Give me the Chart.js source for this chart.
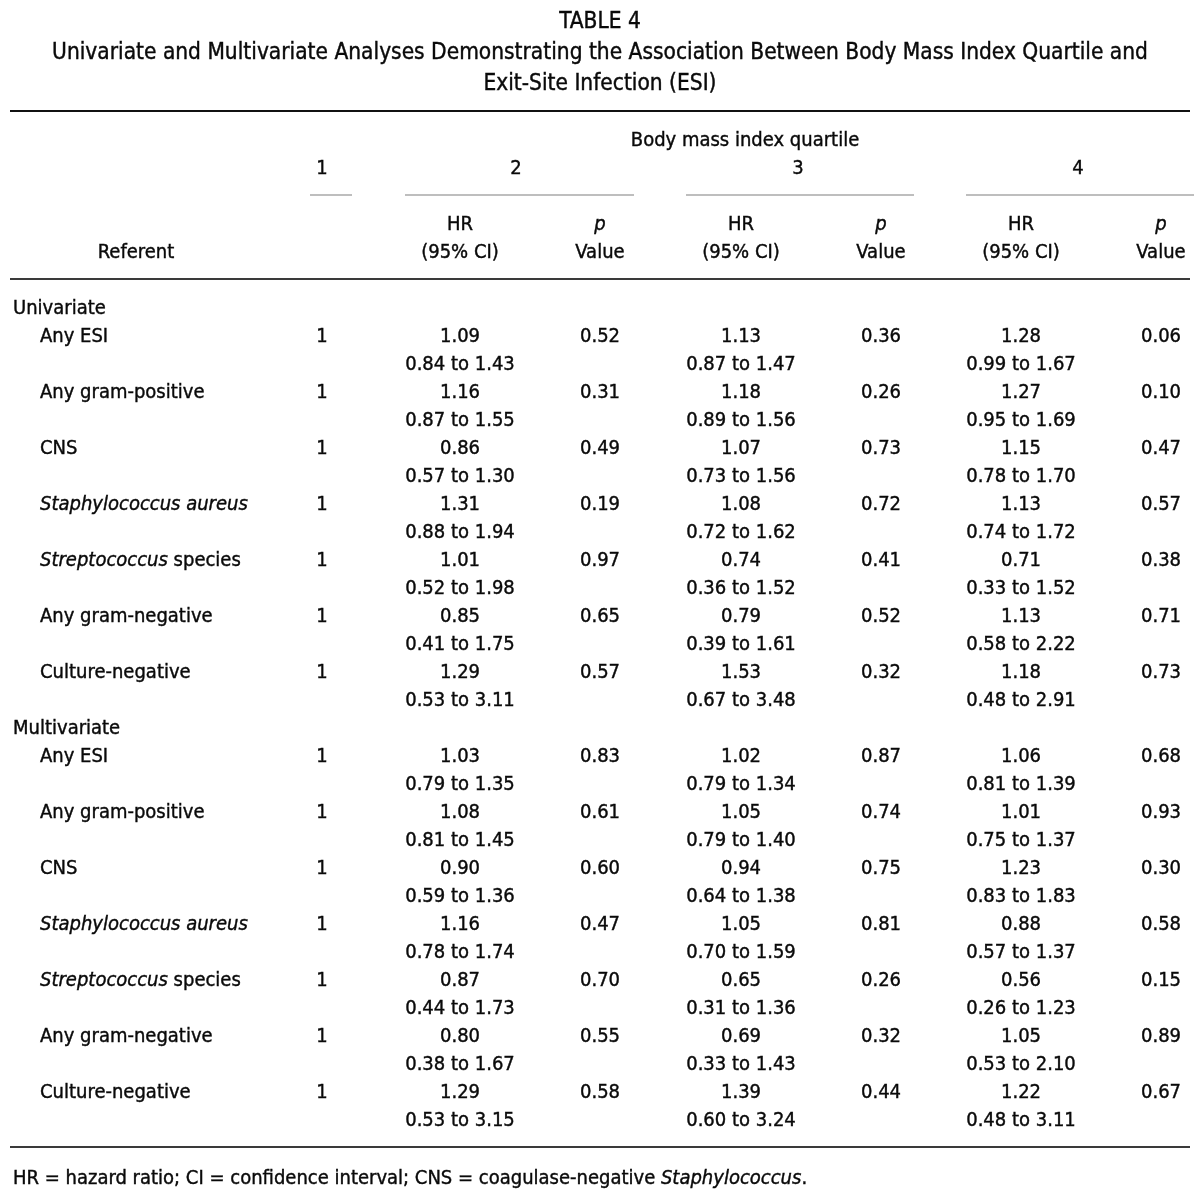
<!DOCTYPE html>
<html>
<head>
<meta charset="utf-8">
<script src="https://cdn.jsdelivr.net/npm/chart.js@4.4.1/dist/chart.umd.min.js"></script>
<style>
  html, body { margin: 0; padding: 0; background: #fff; }
  #wrap { width: 1200px; height: 1198px; position: relative; }
</style>
</head>
<body>
<div id="wrap"><canvas id="table4"></canvas></div>
<script>
// ---- table content ----
const titleLines = [
  'TABLE 4',
  'Univariate and Multivariate Analyses Demonstrating the Association Between Body Mass Index Quartile and',
  'Exit-Site Infection (ESI)',
];
const quartiles = ['1', '2', '3', '4'];
const outcomes = [
  [['Any ESI', false]],
  [['Any gram-positive', false]],
  [['CNS', false]],
  [['Staphylococcus aureus', true]],
  [['Streptococcus', true], [' species', false]],
  [['Any gram-negative', false]],
  [['Culture-negative', false]],
];
const referent = [1, 1, 1, 1, 1, 1, 1];

// univariate
const uniHR2 = [1.09, 1.16, 0.86, 1.31, 1.01, 0.85, 1.29];
const uniLo2 = [0.84, 0.87, 0.57, 0.88, 0.52, 0.41, 0.53];
const uniHi2 = [1.43, 1.55, 1.30, 1.94, 1.98, 1.75, 3.11];
const uniP2  = [0.52, 0.31, 0.49, 0.19, 0.97, 0.65, 0.57];
const uniHR3 = [1.13, 1.18, 1.07, 1.08, 0.74, 0.79, 1.53];
const uniLo3 = [0.87, 0.89, 0.73, 0.72, 0.36, 0.39, 0.67];
const uniHi3 = [1.47, 1.56, 1.56, 1.62, 1.52, 1.61, 3.48];
const uniP3  = [0.36, 0.26, 0.73, 0.72, 0.41, 0.52, 0.32];
const uniHR4 = [1.28, 1.27, 1.15, 1.13, 0.71, 1.13, 1.18];
const uniLo4 = [0.99, 0.95, 0.78, 0.74, 0.33, 0.58, 0.48];
const uniHi4 = [1.67, 1.69, 1.70, 1.72, 1.52, 2.22, 2.91];
const uniP4  = [0.06, 0.10, 0.47, 0.57, 0.38, 0.71, 0.73];

// multivariate
const mvHR2 = [1.03, 1.08, 0.90, 1.16, 0.87, 0.80, 1.29];
const mvLo2 = [0.79, 0.81, 0.59, 0.78, 0.44, 0.38, 0.53];
const mvHi2 = [1.35, 1.45, 1.36, 1.74, 1.73, 1.67, 3.15];
const mvP2  = [0.83, 0.61, 0.60, 0.47, 0.70, 0.55, 0.58];
const mvHR3 = [1.02, 1.05, 0.94, 1.05, 0.65, 0.69, 1.39];
const mvLo3 = [0.79, 0.79, 0.64, 0.70, 0.31, 0.33, 0.60];
const mvHi3 = [1.34, 1.40, 1.38, 1.59, 1.36, 1.43, 3.24];
const mvP3  = [0.87, 0.74, 0.75, 0.81, 0.26, 0.32, 0.44];
const mvHR4 = [1.06, 1.01, 1.23, 0.88, 0.56, 1.05, 1.22];
const mvLo4 = [0.81, 0.75, 0.83, 0.57, 0.26, 0.53, 0.48];
const mvHi4 = [1.39, 1.37, 1.83, 1.37, 1.23, 2.10, 3.11];
const mvP4  = [0.68, 0.93, 0.30, 0.58, 0.15, 0.89, 0.67];

const footnote = [
  ['HR = hazard ratio; CI = confidence interval; CNS = coagulase-negative ', false],
  ['Staphylococcus', true],
  ['.', false],
];

// ---- layout (x in canvas px units, y in text lines of 28px) ----
const colX = { label: 40, section: 13, ref: 322, hr2: 460, p2: 600, hr3: 741, p3: 881, hr4: 1021, p4: 1161 };
const LINE0 = 139, LINE_H = 28;
const TEXT_DY = 2;
const FONT = '"DejaVu Sans Condensed", "Liberation Sans Narrow", "DejaVu Sans", sans-serif';
const BODY_PX = 20;
const TITLE_PX = 22.5;

const cells = [];
const rules = [];
function cell(col, line, segs, align) { cells.push({ col, line, segs, align: align || 'center' }); }
const fmt = (v) => v.toFixed(2);

// header
cell(null, 0, [['Body mass index quartile', false]], 'center');
cell('ref', 1, [[quartiles[0], false]]);
cell('hr2', 1, [[quartiles[1], false]]); // centred over the hr/p pair below
cell('hr3', 1, [[quartiles[2], false]]);
cell('hr4', 1, [[quartiles[3], false]]);
['2', '3', '4'].forEach((q) => {
  cell('hr' + q, 3, [['HR', false]]);
  cell('hr' + q, 4, [['(95% CI)', false]]);
  cell('p' + q, 3, [['p', true]]);
  cell('p' + q, 4, [['Value', false]]);
});
cell('referent', 4, [['Referent', false]]);

rules.push({ from: 10, to: 1190, line: -1, color: '#111', width: 1.8 });
rules.push({ from: 310, to: 352, line: 2, color: '#a8a8a8', width: 1.6 });
rules.push({ from: 405, to: 634, line: 2, color: '#a8a8a8', width: 1.6 });
rules.push({ from: 686, to: 914, line: 2, color: '#a8a8a8', width: 1.6 });
rules.push({ from: 966, to: 1194, line: 2, color: '#a8a8a8', width: 1.6 });
rules.push({ from: 10, to: 1190, line: 5, color: '#3a3a3a', width: 1.8 });
rules.push({ from: 10, to: 1190, line: 36, color: '#3a3a3a', width: 1.8 });

function addBlock(title, startLine, hr, lo, hi, p) {
  cell('section', startLine, [[title, false]], 'left');
  outcomes.forEach((segs, i) => {
    const l = startLine + 1 + i * 2;
    cell('label', l, segs, 'left');
    cell('ref', l, [[String(referent[i]), false]]);
    for (let q = 0; q < 3; q++) {
      const k = q + 2;
      cell('hr' + k, l, [[fmt(hr[q][i]), false]]);
      cell('hr' + k, l + 1, [[fmt(lo[q][i]) + ' to ' + fmt(hi[q][i]), false]]);
      cell('p' + k, l, [[fmt(p[q][i]), false]]);
    }
  });
}
addBlock('Univariate', 6,
  [uniHR2, uniHR3, uniHR4], [uniLo2, uniLo3, uniLo4], [uniHi2, uniHi3, uniHi4], [uniP2, uniP3, uniP4]);
addBlock('Multivariate', 21,
  [mvHR2, mvHR3, mvHR4], [mvLo2, mvLo3, mvLo4], [mvHi2, mvHi3, mvHi4], [mvP2, mvP3, mvP4]);
cell('section', 37.08, footnote, 'left');

// column header centres that are not plain columns
const specialX = { referent: 136, q2: 516, q3: 798, q4: 1078, bmi: 745 };

function drawSegs(ctx, segs, x, y, align, px) {
  const widths = segs.map(([t, it]) => {
    ctx.font = (it ? 'italic ' : '') + px + 'px ' + FONT;
    return ctx.measureText(t).width;
  });
  const total = widths.reduce((a, b) => a + b, 0);
  let cx = align === 'left' ? x : align === 'right' ? x - total : x - total / 2;
  segs.forEach(([t, it], i) => {
    ctx.font = (it ? 'italic ' : '') + px + 'px ' + FONT;
    ctx.textAlign = 'left';
    ctx.fillText(t, cx, y + TEXT_DY);
    ctx.strokeText(t, cx, y + TEXT_DY);
    cx += widths[i];
  });
}

const tablePlugin = {
  id: 'tableText',
  afterDraw(chart) {
    const { ctx, scales } = chart;
    const xs = scales.x, ys = scales.y;
    ctx.save();
    ctx.fillStyle = '#0a0a0a';
    ctx.textBaseline = 'middle';

    // title block
    const titleLinesY = [-4.25, -3.14, -2.04];
    ctx.strokeStyle = '#0a0a0a';
    ctx.lineWidth = 0.4;
    titleLines.forEach((t, i) => {
      drawSegs(ctx, [[t, false]], xs.getPixelForValue(600), ys.getPixelForValue(titleLinesY[i]), 'center', TITLE_PX);
    });

    // rules
    rules.forEach((r) => {
      ctx.strokeStyle = r.color;
      ctx.lineWidth = r.width;
      ctx.beginPath();
      const y = ys.getPixelForValue(r.line);
      ctx.moveTo(xs.getPixelForValue(r.from), y);
      ctx.lineTo(xs.getPixelForValue(r.to), y);
      ctx.stroke();
    });

    // cells
    ctx.strokeStyle = '#0a0a0a';
    ctx.lineWidth = 0.4;
    cells.forEach((c) => {
      let xv;
      if (c.col === null) xv = specialX.bmi;
      else if (c.line === 1 && c.col !== 'ref') xv = specialX['q' + c.col.slice(2)];
      else if (c.col === 'referent') xv = specialX.referent;
      else xv = colX[c.col];
      drawSegs(ctx, c.segs, xs.getPixelForValue(xv), ys.getPixelForValue(c.line), c.align, BODY_PX);
    });
    ctx.restore();
  },
};

new Chart(document.getElementById('table4'), {
  type: 'scatter',
  data: { datasets: [{ data: [], pointRadius: 0 }] },
  options: {
    responsive: true,
    maintainAspectRatio: false,
    animation: false,
    events: [],
    layout: { padding: 0 },
    plugins: { legend: { display: false }, tooltip: { enabled: false }, title: { display: false } },
    scales: {
      x: { type: 'linear', display: false, min: 0, max: 1200 },
      y: { type: 'linear', display: false, reverse: true, min: -LINE0 / LINE_H, max: (1198 - LINE0) / LINE_H },
    },
  },
  plugins: [tablePlugin],
});
</script>
</body>
</html>
